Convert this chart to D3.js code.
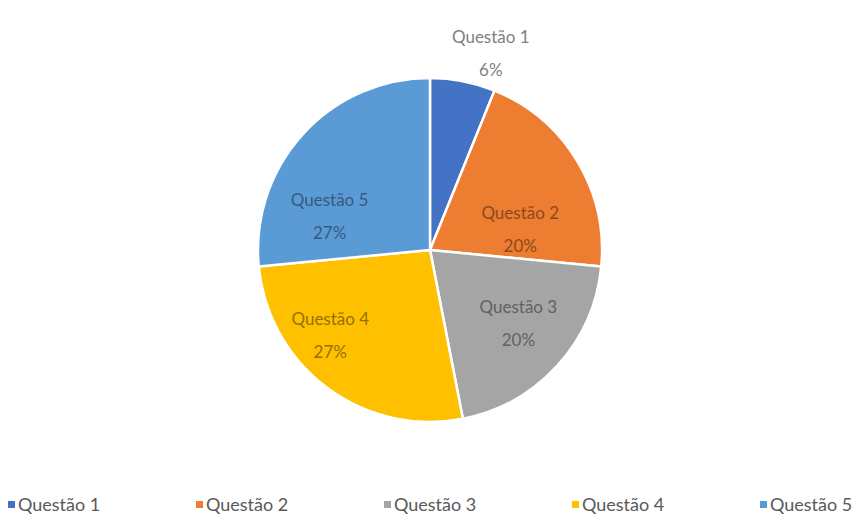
<!DOCTYPE html>
<html>
<head>
<meta charset="utf-8">
<script src="https://cdn.jsdelivr.net/npm/d3@7"></script>
<style>
  body { margin: 0; background: #fff; }
  svg { display: block; }
</style>
</head>
<body>
<script>
// Data
const categories = ["Questão 1", "Questão 2", "Questão 3", "Questão 4", "Questão 5"];
const values = [3, 10, 10, 13, 13];
const colors = ["#4472C4", "#ED7D31", "#A5A5A5", "#FFC000", "#5B9BD5"];

// Layout
const WIDTH = 860;
const HEIGHT = 522;
const CX = 430;
const CY = 250;
const RADIUS = 172;
const FONT = "Lato, 'Open Sans', sans-serif";
const FONT_SIZE = 17;
const LEGEND_Y = 505;
const LEGEND_STEP = 188;

// Excel "best fit" style nudges applied to label anchors
const labelNudge = [[22, -4], [2, 26], [12, -2], [-38, -4], [-24, 29]];

var svg = d3.select("body").append("svg")
  .attr("width", WIDTH)
  .attr("height", HEIGHT);

var total = d3.sum(values);
var pie = d3.pie().sort(null).value(d => d)(values);

var arc = d3.arc().innerRadius(0).outerRadius(RADIUS);
var labelArc = d3.arc().innerRadius(0).outerRadius(RADIUS * 1.2);
var outsideArc = d3.arc().innerRadius(RADIUS * 1.18).outerRadius(RADIUS * 1.18);

var g = svg.append("g")
  .attr("transform", "translate(" + CX + "," + CY + ")");

g.selectAll("path.slice")
  .data(pie)
  .enter().append("path")
  .attr("class", "slice")
  .attr("d", arc)
  .attr("fill", (d, i) => colors[i])
  .attr("stroke", "#fff")
  .attr("stroke-width", 2.5)
  .attr("stroke-linejoin", "round");

// Data labels
pie.forEach(function(d, i)
{
  // small slice goes outside
  let outside = (d.endAngle - d.startAngle) < 0.5;
  let c = outside ? outsideArc.centroid(d) : labelArc.centroid(d);
  let x = c[0] + labelNudge[i][0];
  let y = c[1] + labelNudge[i][1];
  let fill = outside ? "#7f7f7f" : d3.color(colors[i]).darker(1.5).formatHex();
  let pct = Math.round(values[i] / total * 100) + "%";

  let t = g.append("text")
    .attr("text-anchor", "middle")
    .attr("font-family", FONT)
    .attr("font-size", FONT_SIZE)
    .attr("fill", fill);
  t.append("tspan").attr("x", x).attr("y", y - 4).text(categories[i]);
  t.append("tspan").attr("x", x).attr("y", y + 29).text(pct);
});

// Legend
var legend = svg.append("g")
  .attr("transform", "translate(" + (CX - LEGEND_STEP * 2) + "," + LEGEND_Y + ")");

var items = legend.selectAll("g.item")
  .data(categories)
  .enter().append("g")
  .attr("class", "item")
  .attr("transform", (d, i) => "translate(" + (i * LEGEND_STEP) + ",0)");

items.append("rect")
  .attr("x", -46)
  .attr("y", -4)
  .attr("width", 7)
  .attr("height", 7)
  .attr("fill", (d, i) => colors[i]);

items.append("text")
  .attr("x", -36)
  .attr("y", 6)
  .attr("font-family", FONT)
  .attr("font-size", FONT_SIZE + 1)
  .attr("fill", "#595959")
  .text(d => d);
</script>
</body>
</html>
